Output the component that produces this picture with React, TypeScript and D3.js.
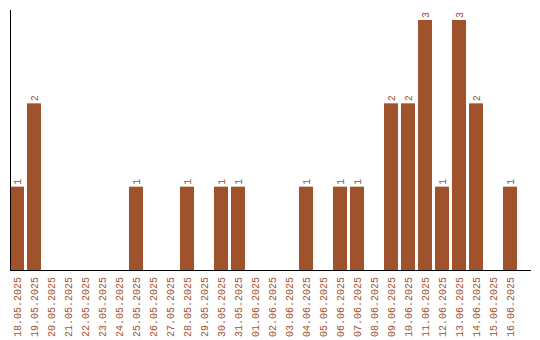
import React from "react";
import * as d3 from "d3";

const dates = [
  "18.05.2025","19.05.2025","20.05.2025","21.05.2025","22.05.2025","23.05.2025",
  "24.05.2025","25.05.2025","26.05.2025","27.05.2025","28.05.2025","29.05.2025",
  "30.05.2025","31.05.2025","01.06.2025","02.06.2025","03.06.2025","04.06.2025",
  "05.06.2025","06.06.2025","07.06.2025","08.06.2025","09.06.2025","10.06.2025",
  "11.06.2025","12.06.2025","13.06.2025","14.06.2025","15.06.2025","16.06.2025",
];
const counts = [1,2,0,0,0,0,0,1,0,0,1,0,1,1,0,0,0,1,0,1,1,0,2,2,3,1,3,2,0,1];

const W = 540, H = 340;
const COLOR = "#a0522d";
const FONT = "'Liberation Mono', monospace";

export default function App() {
  const x = d3.scaleBand<string>().domain(dates).range([10, 517]).paddingInner(3 / 17).paddingOuter(0);
  const y = d3.scaleLinear().domain([0, 3.12]).range([270, 10]);
  return (
    <svg width={W} height={H} style={{ position: "absolute", left: 0, top: 0, background: "#fff" }}>
      {dates.map((d, i) => {
        const v = counts[i];
        const bx = x(d)!;
        const cx = bx + x.bandwidth() / 2;
        return (
          <g key={d}>
            {v > 0 && (
              <rect x={bx} y={y(v)} width={x.bandwidth()} height={y(0) - y(v)} fill={COLOR} />
            )}
            {v > 0 && (
              <text
                transform={`translate(${cx + 3.5},${y(v) - 2}) rotate(-90)`}
                fill={COLOR}
                fontFamily={FONT}
                fontSize={10}
                textAnchor="start"
              >
                {v}
              </text>
            )}
            <text
              transform={`translate(${cx + 3.5},${277}) rotate(-90)`}
              fill={COLOR}
              fontFamily={FONT}
              fontSize={10}
              textAnchor="end"
            >
              {d}
            </text>
          </g>
        );
      })}
      <line x1={10.5} x2={10.5} y1={10} y2={270.5} stroke="#000" strokeWidth={1} />
      <line x1={10} x2={531} y1={270.5} y2={270.5} stroke="#000" strokeWidth={1} />
    </svg>
  );
}
